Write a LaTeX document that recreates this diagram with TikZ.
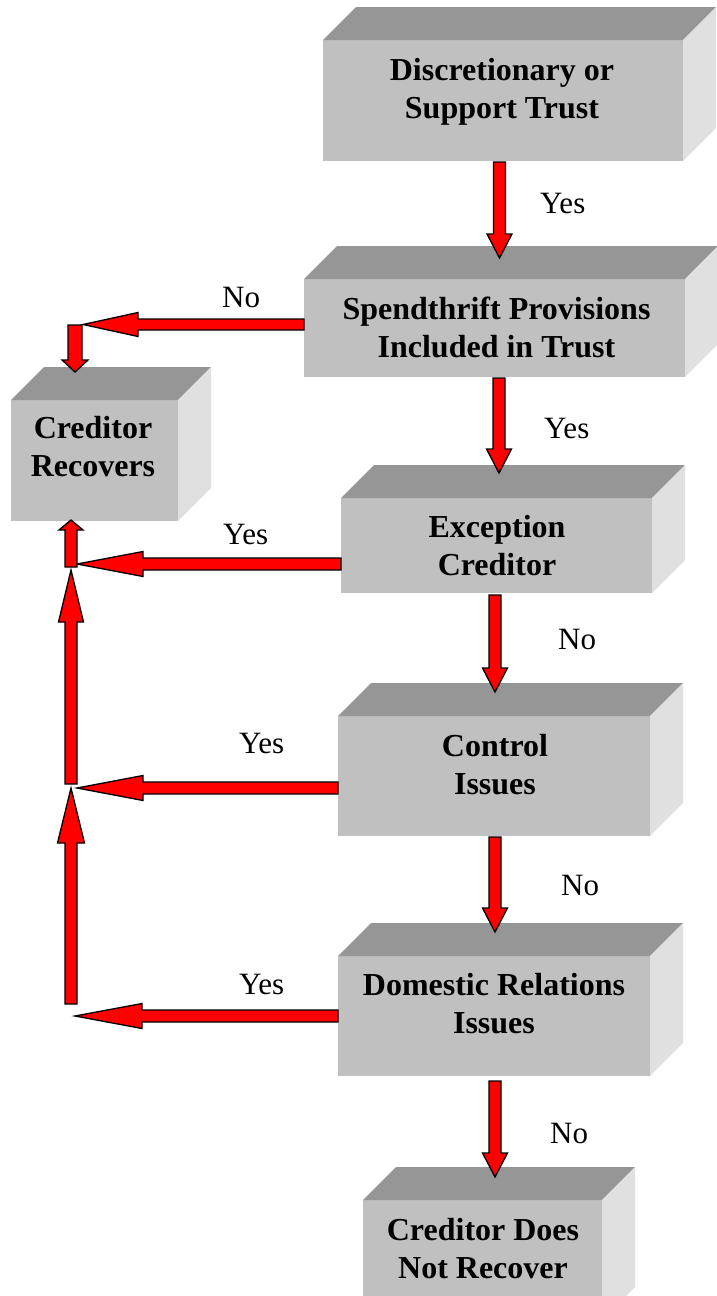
\documentclass[tikz,border=0pt]{standalone}
\usepackage{fontspec}
\setmainfont{Liberation Serif}
\usetikzlibrary{calc}
\definecolor{topgray}{RGB}{150,150,150}
\definecolor{frontgray}{RGB}{192,192,192}
\definecolor{sidegray}{RGB}{224,224,224}
\tikzset{
  arrhl/.store in=\ahl, arrhw/.store in=\ahw, arrhh/.store in=\ahh,
  arrhl=24pt, arrhw=6pt, arrhh=12.5pt,
  frontface/.style={fill=frontgray, draw=none, inner sep=0pt, outer sep=0pt},
  boxtext/.style={align=center, inner sep=0pt, font=\bfseries\fontsize{32}{38}\selectfont},
  lbl/.style={anchor=base west, inner sep=0pt, font=\fontsize{31}{37}\selectfont},
  blockarrow/.style={draw=black, fill=red, line width=1.3pt, line join=miter,
    to path={let \p1=(\tikztostart), \p2=(\tikztotarget), \p3=($(\p2)!\ahl!(\p1)$) in
      ($(\p1)!\ahw!90:(\p2)$) -- ($(\p3)!\ahw!90:(\p2)$) -- ($(\p3)!\ahh!90:(\p2)$) -- (\p2)
      -- ($(\p3)!\ahh!-90:(\p2)$) -- ($(\p3)!\ahw!-90:(\p2)$) -- ($(\p1)!\ahw!-90:(\p2)$) -- cycle}}
}
\begin{document}
\begin{tikzpicture}[x=1pt,y=-1pt]
\path[use as bounding box] (0,0) rectangle (717,1296);
\clip (0,0) rectangle (717,1296);
% boxes
\node[frontface, minimum width=360pt, minimum height=121pt] (b1) at (503,100.5) {};
\fill[topgray] (b1.north west) -- ++(33,-33) -- ([shift={(33,-33)}]b1.north east) -- (b1.north east) -- cycle;
\fill[sidegray] (b1.north east) -- ++(33,-33) -- ([shift={(33,-33)}]b1.south east) -- (b1.south east) -- cycle;
\node[boxtext] (t1) at (502,91.5) {\vphantom{fg}Discretionary or\\Support Trust\vphantom{fg}};

\node[frontface, minimum width=381pt, minimum height=98pt] (b2) at (494.5,328) {};
\fill[topgray] (b2.north west) -- ++(33,-33) -- ([shift={(33,-33)}]b2.north east) -- (b2.north east) -- cycle;
\fill[sidegray] (b2.north east) -- ++(33,-33) -- ([shift={(33,-33)}]b2.south east) -- (b2.south east) -- cycle;
\node[boxtext] (t2) at (496.5,330.5) {\vphantom{fg}Spendthrift Provisions\\Included in Trust\vphantom{fg}};

\node[frontface, minimum width=167pt, minimum height=121pt] (cr) at (94.5,460.5) {};
\fill[topgray] (cr.north west) -- ++(33,-33) -- ([shift={(33,-33)}]cr.north east) -- (cr.north east) -- cycle;
\fill[sidegray] (cr.north east) -- ++(33,-33) -- ([shift={(33,-33)}]cr.south east) -- (cr.south east) -- cycle;
\node[boxtext] (tcr) at (93,450) {\vphantom{fg}Creditor\\Recovers\vphantom{fg}};

\node[frontface, minimum width=311pt, minimum height=95pt] (b3) at (496.5,545.5) {};
\fill[topgray] (b3.north west) -- ++(33,-33) -- ([shift={(33,-33)}]b3.north east) -- (b3.north east) -- cycle;
\fill[sidegray] (b3.north east) -- ++(33,-33) -- ([shift={(33,-33)}]b3.south east) -- (b3.south east) -- cycle;
\node[boxtext] (t3) at (497,549) {\vphantom{fg}Exception\\Creditor\vphantom{fg}};

\node[frontface, minimum width=312pt, minimum height=120pt] (b4) at (494,776) {};
\fill[topgray] (b4.north west) -- ++(33,-33) -- ([shift={(33,-33)}]b4.north east) -- (b4.north east) -- cycle;
\fill[sidegray] (b4.north east) -- ++(33,-33) -- ([shift={(33,-33)}]b4.south east) -- (b4.south east) -- cycle;
\node[boxtext] (t4) at (495,767.5) {\vphantom{fg}Control\\Issues\vphantom{fg}};

\node[frontface, minimum width=312pt, minimum height=120pt] (b5) at (494,1016) {};
\fill[topgray] (b5.north west) -- ++(33,-33) -- ([shift={(33,-33)}]b5.north east) -- (b5.north east) -- cycle;
\fill[sidegray] (b5.north east) -- ++(33,-33) -- ([shift={(33,-33)}]b5.south east) -- (b5.south east) -- cycle;
\node[boxtext] (t5) at (494,1007) {\vphantom{fg}Domestic Relations\\Issues\vphantom{fg}};

\node[frontface, minimum width=239pt, minimum height=120pt] (b6) at (482.5,1260) {};
\fill[topgray] (b6.north west) -- ++(33,-33) -- ([shift={(33,-33)}]b6.north east) -- (b6.north east) -- cycle;
\fill[sidegray] (b6.north east) -- ++(33,-33) -- ([shift={(33,-33)}]b6.south east) -- (b6.south east) -- cycle;
\node[boxtext] (t6) at (483,1252) {\vphantom{fg}Creditor Does\\Not Recover\vphantom{fg}};

% arrow end points
\coordinate (a1s) at (499.5,162);  \coordinate (a1e) at (499.5,258);
\coordinate (a2s) at (499,378);    \coordinate (a2e) at (499,473);
\coordinate (a3s) at (495,595);    \coordinate (a3e) at (495,692);
\coordinate (a4s) at (495,837);    \coordinate (a4e) at (495,932);
\coordinate (a5s) at (495,1081);   \coordinate (a5e) at (495,1177);
\coordinate (l1s) at (304,324.5);  \coordinate (l1e) at (83,324.5);
\coordinate (d1s) at (75,325);     \coordinate (d1e) at (75,372);
\coordinate (l2s) at (341,564);    \coordinate (l2e) at (77,564);
\coordinate (u1s) at (71,567);     \coordinate (u1e) at (71,520);
\coordinate (l3s) at (338,788);    \coordinate (l3e) at (77,788);
\coordinate (u2s) at (71,784);     \coordinate (u2e) at (71,570);
\coordinate (l4s) at (338,1016);   \coordinate (l4e) at (75,1016);
\coordinate (u3s) at (71,1004);    \coordinate (u3e) at (71,788);

% vertical arrows
\draw[blockarrow] (a1s) to (a1e);
\draw[blockarrow] (a2s) to (a2e);
\draw[blockarrow] (a3s) to (a3e);
\draw[blockarrow] (a4s) to (a4e);
\draw[blockarrow] (a5s) to (a5e);
% left arrows
\draw[blockarrow, arrhw=5.5pt, arrhh=12pt, arrhl=55pt] (l1s) to (l1e);
\draw[blockarrow, arrhw=7pt, arrhh=13pt, arrhl=12pt] (d1s) to (d1e);
\draw[blockarrow, arrhl=66pt] (l2s) to (l2e);
\draw[blockarrow, arrhh=12pt, arrhl=10pt] (u1s) to (u1e);
\draw[blockarrow, arrhl=66pt] (l3s) to (l3e);
\draw[blockarrow, arrhl=52pt] (u2s) to (u2e);
\draw[blockarrow, arrhl=67pt] (l4s) to (l4e);
\draw[blockarrow, arrhh=13.5pt, arrhl=55pt] (u3s) to (u3e);

% labels
\node[lbl] (y1) at (540,213) {Yes};
\node[lbl] (y2) at (544,438) {Yes};
\node[lbl] (n1) at (558,649) {No};
\node[lbl] (n2) at (561,895) {No};
\node[lbl] (n3) at (550,1143) {No};
\node[lbl] (n0) at (222,307) {No};
\node[lbl] (y3) at (223,544) {Yes};
\node[lbl] (y4) at (239,753) {Yes};
\node[lbl] (y5) at (239,994) {Yes};
\end{tikzpicture}
\end{document}
